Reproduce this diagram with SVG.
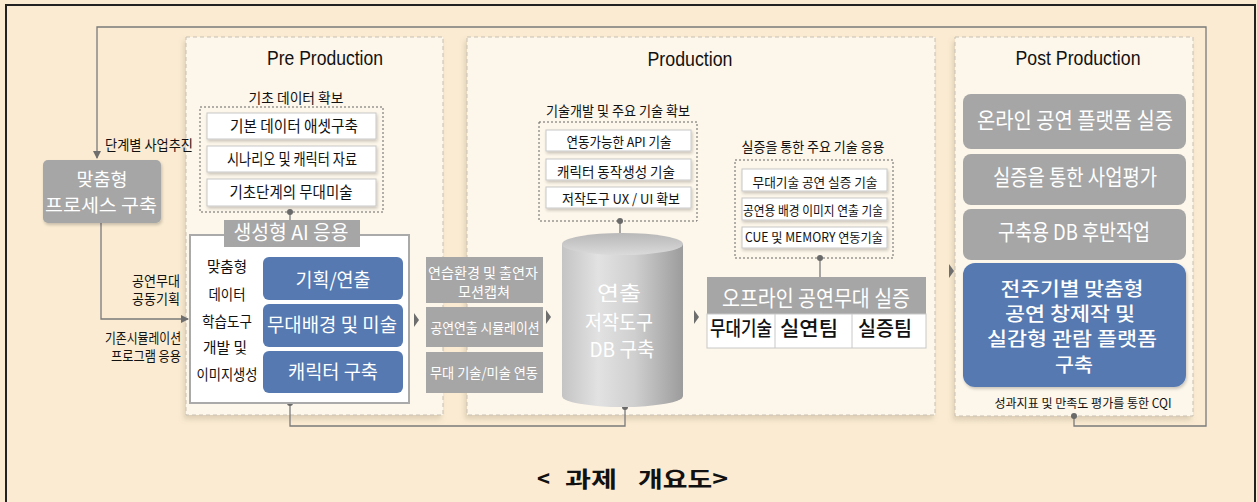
<svg xmlns="http://www.w3.org/2000/svg" width="1257" height="502" viewBox="0 0 1257 502">
<defs>
<style>
text{font-family:"Noto Sans CJK KR","Liberation Sans",sans-serif;}
.lat{font-family:"Liberation Sans","Noto Sans CJK KR",sans-serif;}
.panel{fill:#FDF6EA;stroke:#C9C1B2;stroke-width:1;stroke-dasharray:4 3;}
.dot{fill:none;stroke:#666;stroke-width:1;stroke-dasharray:2 2;}
.wbox{fill:#fff;stroke:#C8C8C8;stroke-width:1;}
.gbox{fill:#A6A6A6;}
.bbox{fill:#5579B0;}
.wt{fill:#fff;}
.bk{fill:#111;}
.ln{fill:none;stroke:#7A7A7A;stroke-width:1.3;}
.dt{fill:#6A6A6A;}
.tri{fill:#6E6E6E;}
</style>
<filter id="sh" x="-10%" y="-10%" width="120%" height="125%">
<feDropShadow dx="-2" dy="4" stdDeviation="2.5" flood-color="#8A7A60" flood-opacity="0.25"/>
</filter>
<filter id="sh2" x="-10%" y="-10%" width="120%" height="130%">
<feDropShadow dx="1" dy="2" stdDeviation="1.5" flood-color="#000" flood-opacity="0.2"/>
</filter>
<marker id="ah" markerWidth="8" markerHeight="8" refX="7" refY="4" orient="auto" markerUnits="userSpaceOnUse">
<path d="M0,0 L8,4 L0,8 Z" fill="#6E6E6E"/>
</marker>
<linearGradient id="cyl" x1="0" y1="0" x2="1" y2="0">
<stop offset="0" stop-color="#C4C4C4"/>
<stop offset="0.3" stop-color="#E2E2E2"/>
<stop offset="0.6" stop-color="#CFCFCF"/>
<stop offset="1" stop-color="#9C9C9C"/>
</linearGradient>
<linearGradient id="cyltop" x1="0" y1="0" x2="0" y2="1">
<stop offset="0" stop-color="#B8B8B8"/>
<stop offset="1" stop-color="#DADADA"/>
</linearGradient>
</defs>

<rect x="0" y="0" width="1257" height="502" fill="#FAEBD2"/>
<path d="M6,502 V5 H1255 V502" fill="none" stroke="#222" stroke-width="2"/>

<!-- panels -->
<g id="pre-production">
<rect class="panel" x="186" y="37" width="257" height="378" filter="url(#sh)"/>
<text class="lat bk" x="325" y="65" font-size="20" text-anchor="middle" textLength="116" lengthAdjust="spacingAndGlyphs">Pre Production</text>
</g>
<g id="production">
<rect class="panel" x="467" y="37" width="468" height="378" filter="url(#sh)"/>
<text class="lat bk" x="690" y="66" font-size="20" text-anchor="middle" textLength="85" lengthAdjust="spacingAndGlyphs">Production</text>
</g>
<g id="post-production">
<rect class="panel" x="955" y="37" width="238" height="379" filter="url(#sh)"/>
<text class="lat bk" x="1078" y="65" font-size="20" text-anchor="middle" textLength="125" lengthAdjust="spacingAndGlyphs">Post Production</text>
</g>

<!-- connectors -->
<g id="connectors">
<path class="ln" d="M1074,416 V426 H1206 V27 H97 V158" marker-end="url(#ah)"/>
<path class="ln" d="M101,223 V319 H188" marker-end="url(#ah)"/>
<path class="ln" d="M290,403 V426 H625 V407"/>
<path class="ln" d="M290,212 V220"/>
<path class="ln" d="M620,221 V233"/>
<path class="ln" d="M820,258 V277"/>
<circle class="dt" cx="1074" cy="416" r="3"/>
<circle class="dt" cx="290" cy="403" r="3"/>
<circle class="dt" cx="625" cy="407" r="3"/>
<circle class="dt" cx="290" cy="212" r="3"/>
<circle class="dt" cx="620" cy="221" r="3"/>
<circle class="dt" cx="820" cy="258" r="3"/>
<path class="tri" d="M414,313 L419,320 L414,327 Z"/>
<path class="tri" d="M546,310 L551,317 L546,324 Z"/>
<path class="tri" d="M694,310 L699,317 L694,324 Z"/>
<path class="tri" d="M949,264 L954,271 L949,278 Z"/>
</g>

<!-- left side -->
<g id="custom-process">
<rect class="gbox" x="43" y="160" width="118" height="63" rx="5" filter="url(#sh2)"/>
<text class="wt" x="102" y="186" font-size="18.5" text-anchor="middle" textLength="51" lengthAdjust="spacingAndGlyphs">맞춤형</text>
<text class="wt" x="101" y="212" font-size="18.5" text-anchor="middle" textLength="112" lengthAdjust="spacingAndGlyphs">프로세스 구축</text>
</g>
<g id="left-labels">
<text class="bk" x="149" y="150" font-size="14" text-anchor="middle" textLength="88" lengthAdjust="spacingAndGlyphs">단계별 사업추진</text>
<text class="bk" x="180" y="286" font-size="14" text-anchor="end" textLength="48" lengthAdjust="spacingAndGlyphs">공연무대</text>
<text class="bk" x="180" y="304" font-size="14" text-anchor="end" textLength="48" lengthAdjust="spacingAndGlyphs">공동기획</text>
<text class="bk" x="181" y="343" font-size="14" text-anchor="end" textLength="76" lengthAdjust="spacingAndGlyphs">기존시뮬레이션</text>
<text class="bk" x="181" y="361" font-size="14" text-anchor="end" textLength="70" lengthAdjust="spacingAndGlyphs">프로그램 응용</text>
</g>

<!-- basic data -->
<g id="basic-data">
<text class="bk" x="296" y="103" font-size="14" text-anchor="middle" textLength="95" lengthAdjust="spacingAndGlyphs">기초 데이터 확보</text>
<rect class="dot" x="200" y="107" width="183" height="105"/>
<rect class="wbox" x="207" y="113" width="169" height="26" filter="url(#sh2)"/>
<rect class="wbox" x="207" y="146" width="169" height="26" filter="url(#sh2)"/>
<rect class="wbox" x="207" y="179" width="169" height="27" filter="url(#sh2)"/>
<text class="bk" x="294" y="132" font-size="16" text-anchor="middle" textLength="128" lengthAdjust="spacingAndGlyphs">기본 데이터 애셋구축</text>
<text class="bk" x="292" y="165" font-size="16" text-anchor="middle" textLength="130" lengthAdjust="spacingAndGlyphs">시나리오 및 캐릭터 자료</text>
<text class="bk" x="291" y="198" font-size="16" text-anchor="middle" textLength="123" lengthAdjust="spacingAndGlyphs">기초단계의 무대미술</text>
</g>

<!-- generative AI -->
<g id="generative-ai">
<rect x="190" y="235" width="219" height="168" fill="#fff" stroke="#AAAAAA" stroke-width="2"/>
<rect class="gbox" x="224" y="220" width="136" height="27"/>
<text class="wt" x="291" y="240" font-size="20" text-anchor="middle" textLength="115" lengthAdjust="spacingAndGlyphs">생성형 AI 응용</text>
<text class="bk" x="227" y="272" font-size="15" text-anchor="middle" textLength="40" lengthAdjust="spacingAndGlyphs">맞춤형</text>
<text class="bk" x="227" y="300" font-size="15" text-anchor="middle" textLength="37" lengthAdjust="spacingAndGlyphs">데이터</text>
<text class="bk" x="227" y="327" font-size="15" text-anchor="middle" textLength="50" lengthAdjust="spacingAndGlyphs">학습도구</text>
<text class="bk" x="225" y="353" font-size="15" text-anchor="middle" textLength="44" lengthAdjust="spacingAndGlyphs">개발 및</text>
<text class="bk" x="227" y="380" font-size="15" text-anchor="middle" textLength="61" lengthAdjust="spacingAndGlyphs">이미지생성</text>
<rect class="bbox" x="263" y="257" width="140" height="43" rx="6"/>
<rect class="bbox" x="263" y="304" width="140" height="43" rx="6"/>
<rect class="bbox" x="263" y="351" width="140" height="42" rx="6"/>
<text class="wt" x="333" y="287" font-size="19" text-anchor="middle" textLength="75" lengthAdjust="spacingAndGlyphs">기획/연출</text>
<text class="wt" x="332" y="332" font-size="19" text-anchor="middle" textLength="130" lengthAdjust="spacingAndGlyphs">무대배경 및 미술</text>
<text class="wt" x="333" y="379" font-size="19" text-anchor="middle" textLength="90" lengthAdjust="spacingAndGlyphs">캐릭터 구축</text>
</g>

<!-- middle gray boxes -->
<g id="rehearsal">
<rect class="gbox" x="426" y="257" width="117" height="46"/>
<rect class="gbox" x="426" y="307" width="117" height="40"/>
<rect class="gbox" x="426" y="352" width="117" height="41"/>
<text class="wt" x="483" y="278" font-size="14" text-anchor="middle" textLength="110" lengthAdjust="spacingAndGlyphs">연습환경 및 출연자</text>
<text class="wt" x="484" y="297" font-size="14" text-anchor="middle" textLength="52" lengthAdjust="spacingAndGlyphs">모션캡쳐</text>
<text class="wt" x="485" y="333" font-size="14" text-anchor="middle" textLength="109" lengthAdjust="spacingAndGlyphs">공연연출 시뮬레이션</text>
<text class="wt" x="484" y="378" font-size="14" text-anchor="middle" textLength="108" lengthAdjust="spacingAndGlyphs">무대 기술/미술 연동</text>
</g>

<!-- tech dev -->
<g id="tech-dev">
<text class="bk" x="618" y="116" font-size="14" text-anchor="middle" textLength="144" lengthAdjust="spacingAndGlyphs">기술개발 및 주요 기술 확보</text>
<rect class="dot" x="539" y="122" width="158" height="99"/>
<rect class="wbox" x="546" y="130" width="145" height="21" filter="url(#sh2)"/>
<rect class="wbox" x="546" y="159" width="145" height="21" filter="url(#sh2)"/>
<rect class="wbox" x="546" y="187" width="145" height="21" filter="url(#sh2)"/>
<text class="bk" x="619" y="147" font-size="13.5" text-anchor="middle" textLength="105" lengthAdjust="spacingAndGlyphs">연동가능한 API 기술</text>
<text class="bk" x="616" y="177" font-size="13.5" text-anchor="middle" textLength="118" lengthAdjust="spacingAndGlyphs">캐릭터 동작생성 기술</text>
<text class="bk" x="621" y="204" font-size="13.5" text-anchor="middle" textLength="118" lengthAdjust="spacingAndGlyphs">저작도구 UX / UI 확보</text>
</g>

<!-- cylinder -->
<g id="db-cylinder">
<path d="M562,244 V396 A60.5,11 0 0 0 683,396 V244 Z" fill="url(#cyl)"/>
<ellipse cx="622.5" cy="244" rx="60.5" ry="11" fill="url(#cyltop)"/>
<text class="wt" x="619" y="301" font-size="20" text-anchor="middle" textLength="44" lengthAdjust="spacingAndGlyphs">연출</text>
<text class="wt" x="619" y="330" font-size="20" text-anchor="middle" textLength="68" lengthAdjust="spacingAndGlyphs">저작도구</text>
<text class="wt" x="622" y="357" font-size="20" text-anchor="middle" textLength="65" lengthAdjust="spacingAndGlyphs">DB 구축</text>
</g>

<!-- validation tech -->
<g id="validation-tech">
<text class="bk" x="813" y="152" font-size="14" text-anchor="middle" textLength="143" lengthAdjust="spacingAndGlyphs">실증을 통한 주요 기술 응용</text>
<rect class="dot" x="735" y="160" width="158" height="98"/>
<rect class="wbox" x="742" y="169" width="145" height="22" filter="url(#sh2)"/>
<rect class="wbox" x="742" y="198" width="145" height="22" filter="url(#sh2)"/>
<rect class="wbox" x="742" y="227" width="145" height="21" filter="url(#sh2)"/>
<text class="bk" x="815" y="187" font-size="13" text-anchor="middle" textLength="125" lengthAdjust="spacingAndGlyphs">무대기술 공연 실증 기술</text>
<text class="bk" x="813" y="215" font-size="13" text-anchor="middle" textLength="140" lengthAdjust="spacingAndGlyphs">공연용 배경 이미지 연출 기술</text>
<text class="bk" x="814" y="242" font-size="13" text-anchor="middle" textLength="138" lengthAdjust="spacingAndGlyphs">CUE 및 MEMORY 연동기술</text>
</g>

<!-- offline -->
<g id="offline-validation">
<rect class="gbox" x="707" y="277" width="219" height="37"/>
<rect x="707" y="314" width="219" height="34" fill="#fff" stroke="#C8C8C8" stroke-width="1"/>
<line x1="775" y1="314" x2="775" y2="348" stroke="#C8C8C8"/>
<line x1="852" y1="314" x2="852" y2="348" stroke="#C8C8C8"/>
<text class="wt" x="816" y="306" font-size="22" text-anchor="middle" textLength="188" lengthAdjust="spacingAndGlyphs">오프라인 공연무대 실증</text>
<text class="bk" x="741" y="336" font-size="20" font-weight="500" text-anchor="middle" textLength="62" lengthAdjust="spacingAndGlyphs">무대기술</text>
<text class="bk" x="809" y="336" font-size="20" font-weight="500" text-anchor="middle" textLength="58" lengthAdjust="spacingAndGlyphs">실연팀</text>
<text class="bk" x="885" y="336" font-size="20" font-weight="500" text-anchor="middle" textLength="54" lengthAdjust="spacingAndGlyphs">실증팀</text>
</g>

<!-- post production boxes -->
<g id="post-boxes">
<rect class="gbox" x="963" y="94" width="223" height="55" rx="8"/>
<rect class="gbox" x="963" y="154" width="223" height="51" rx="8"/>
<rect class="gbox" x="963" y="209" width="223" height="51" rx="8"/>
<text class="wt" x="1075" y="128" font-size="22" text-anchor="middle" textLength="196" lengthAdjust="spacingAndGlyphs">온라인 공연 플랫폼 실증</text>
<text class="wt" x="1075" y="185" font-size="22" text-anchor="middle" textLength="164" lengthAdjust="spacingAndGlyphs">실증을 통한 사업평가</text>
<text class="wt" x="1074" y="240" font-size="22" text-anchor="middle" textLength="152" lengthAdjust="spacingAndGlyphs">구축용 DB 후반작업</text>
</g>
<g id="final-goal">
<rect class="bbox" x="963" y="263" width="223" height="124" rx="12" filter="url(#sh2)"/>
<text class="wt" x="1072" y="296" font-size="19" font-weight="500" text-anchor="middle" textLength="143" lengthAdjust="spacingAndGlyphs">전주기별 맞춤형</text>
<text class="wt" x="1070" y="321" font-size="19" font-weight="500" text-anchor="middle" textLength="130" lengthAdjust="spacingAndGlyphs">공연 창제작 및</text>
<text class="wt" x="1072" y="346" font-size="19" font-weight="500" text-anchor="middle" textLength="170" lengthAdjust="spacingAndGlyphs">실감형 관람 플랫폼</text>
<text class="wt" x="1074" y="372" font-size="19" font-weight="500" text-anchor="middle" textLength="38" lengthAdjust="spacingAndGlyphs">구축</text>
</g>
<g id="cqi-label">
<text class="bk" x="1083" y="408" font-size="12.5" text-anchor="middle" textLength="177" lengthAdjust="spacingAndGlyphs">성과지표 및 만족도 평가를 통한 CQI</text>
</g>

<g id="caption">
<text class="bk" y="487" font-size="22" font-weight="bold"><tspan x="537">&lt;</tspan> <tspan x="565" textLength="52" lengthAdjust="spacingAndGlyphs">과제</tspan> <tspan x="638" textLength="90" lengthAdjust="spacingAndGlyphs">개요도&gt;</tspan></text>
</g>
</svg>
